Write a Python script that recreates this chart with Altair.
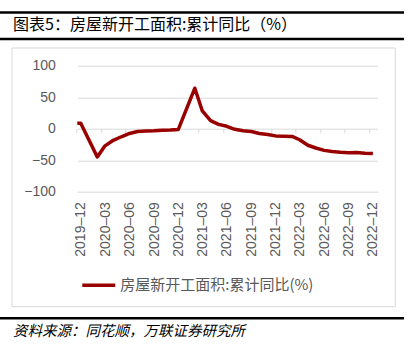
import altair as alt
import pandas as pd

# ---- data (cumulative YoY %) ----
months = [
    "2019-11-01", "2019-12-01",
    "2020-02-01", "2020-03-01", "2020-04-01", "2020-05-01", "2020-06-01", "2020-07-01",
    "2020-08-01", "2020-09-01", "2020-10-01", "2020-11-01", "2020-12-01",
    "2021-02-01", "2021-03-01", "2021-04-01", "2021-05-01", "2021-06-01", "2021-07-01",
    "2021-08-01", "2021-09-01", "2021-10-01", "2021-11-01", "2021-12-01",
    "2022-02-01", "2022-03-01", "2022-04-01", "2022-05-01", "2022-06-01", "2022-07-01",
    "2022-08-01", "2022-09-01", "2022-10-01", "2022-11-01", "2022-12-01",
]
values = [
    8.6, 8.5,
    -44.9, -27.2, -18.4, -12.8, -7.6, -4.5, -3.6, -3.4, -2.4, -2.0, -1.2,
    64.3, 28.2, 12.8, 6.9, 3.8, -0.9, -3.2, -4.5, -7.7, -9.1, -11.4,
    -12.2, -17.5, -26.3, -30.6, -34.4, -36.1, -37.2, -38.0, -37.8, -38.9, -39.4,
]
series_name = "房屋新开工面积:累计同比(%)"
tick_months = [(2019, 12), (2020, 3), (2020, 6), (2020, 9), (2020, 12), (2021, 3), (2021, 6),
               (2021, 9), (2021, 12), (2022, 3), (2022, 6), (2022, 9), (2022, 12)]
y_ticks = [-100, -50, 0, 50, 100]
title_text = "图表5：房屋新开工面积:累计同比（%）"
source_text = "资料来源：同花顺，万联证券研究所"

df = pd.DataFrame({"date": months, "value": values, "series": series_name})
one = pd.DataFrame({"a": [0]})

GRAY = "#595959"
GRID = "#d9d9d9"
LINE = "#990000"
CJK = "Noto Sans CJK SC"
LAT = "Liberation Sans"

xscale = alt.Scale(
    type="utc",
    domain=[alt.DateTime(year=2019, month=11, date=18, utc=True),
            alt.DateTime(year=2022, month=12, date=19, utc=True)],
)
tick_vals = [alt.DateTime(year=y, month=m, date=1, utc=True) for (y, m) in tick_months]

line = alt.Chart(df).mark_line(color=LINE, strokeWidth=3.5, clip=True, strokeJoin="round").encode(
    x=alt.X("date:T", scale=xscale,
            axis=alt.Axis(orient="bottom", values=tick_vals,
                          labelExpr="utcFormat(datum.value, '%Y–%m')",
                          labelAngle=-90, labelFont=LAT, labelFontSize=14, labelColor=GRAY,
                          labelPadding=10, ticks=False, tickSize=0, domain=False, grid=False,
                          title=None, labelOverlap=False)),
    y=alt.Y("value:Q", scale=alt.Scale(domain=[-100, 100], nice=False),
            axis=alt.Axis(values=y_ticks, grid=True, gridColor=GRID, gridWidth=1,
                          domain=False, ticks=False, tickSize=0, labelPadding=22,
                          labelFont=LAT, labelFontSize=14, labelColor=GRAY, title=None)),
    color=alt.Color("series:N", scale=alt.Scale(range=[LINE]),
                    legend=alt.Legend(orient="none", legendX=3, legendY=201, direction="horizontal",
                                      title=None, symbolType="stroke", symbolSize=1089,
                                      symbolStrokeWidth=3.5, labelFont=CJK, labelFontSize=15,
                                      labelColor=GRAY, labelLimit=0, padding=0, labelOffset=3)),
)

ticks_layer = alt.Chart(df).mark_point(opacity=0).encode(
    x=alt.X("date:T", scale=xscale,
            axis=alt.Axis(orient="bottom", values=tick_vals, labels=False, ticks=True, tickSize=4,
                          tickColor=GRID, tickWidth=1, tickOffset=-4, offset=-63, domain=False,
                          grid=False, title=None, zindex=0)),
)

box = alt.Chart(one).mark_rect(fill=None, stroke=GRID, strokeWidth=1).encode(
    x=alt.value(-65.3), x2=alt.value(318), y=alt.value(-17.7), y2=alt.value(241)
)
top_rule = alt.Chart(one).mark_rule(color="#000000", strokeWidth=2.5).encode(
    x=alt.value(-77.3), x2=alt.value(326.7), y=alt.value(-53.2)
)
mid_rule = alt.Chart(one).mark_rule(color="#000000", strokeWidth=2.5).encode(
    x=alt.value(-77.3), x2=alt.value(326.7), y=alt.value(-26.7)
)
bot_rule = alt.Chart(one).mark_rule(color="#000000", strokeWidth=2.5).encode(
    x=alt.value(-77.3), x2=alt.value(326.7), y=alt.value(252.6)
)
title = alt.Chart(one).mark_text(align="left", baseline="middle", font=CJK, fontSize=16,
                                 color="#000000").encode(
    x=alt.value(-64.3), y=alt.value(-40.7), text=alt.value(title_text)
)
source = alt.Chart(one).mark_text(align="left", baseline="middle", font=CJK, fontSize=14.5,
                                  fontStyle="italic", color="#000000").encode(
    x=alt.value(-64.3), y=alt.value(266), text=alt.value(source_text)
)

chart = alt.layer(box, top_rule, mid_rule, bot_rule, line, ticks_layer, title, source).resolve_axis(
    x="independent"
).properties(
    width=300.4, height=126,
    padding={"left": 77.3, "top": 65.7, "right": 33.3, "bottom": 159.3},
    autosize=alt.AutoSizeParams(type="none"),
    background="white",
).configure_view(stroke=None)

chart.save("out.html", embed_options={"renderer": "svg", "actions": False})
